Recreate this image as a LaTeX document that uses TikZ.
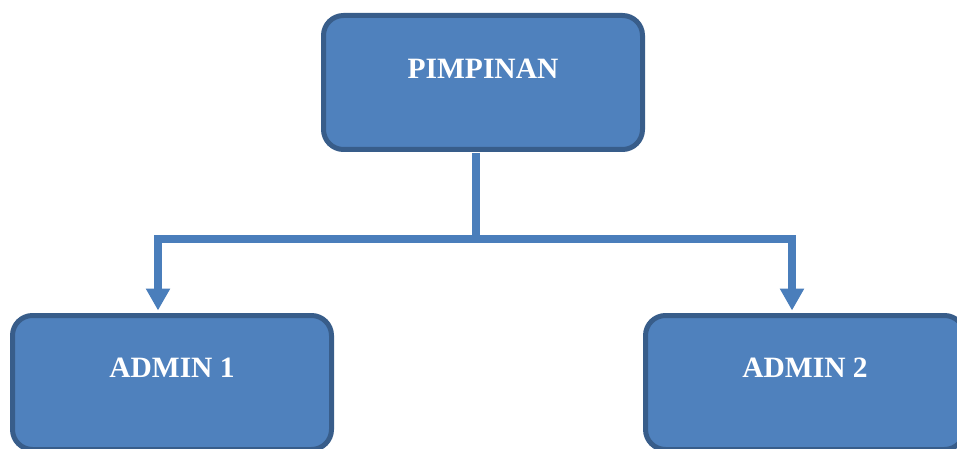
\documentclass[tikz,border=0pt]{standalone}
\usepackage{fontspec}
\setmainfont{Liberation Serif}
\usetikzlibrary{arrows.meta}
\definecolor{boxfill}{HTML}{4F81BD}
\definecolor{boxline}{HTML}{385D8A}
\definecolor{conncol}{HTML}{4A7EBB}
\tikzset{
  orgbox/.style={draw=boxline, fill=boxfill, line width=5pt, rounded corners=20pt,
    minimum width=319pt, minimum height=134pt, inner sep=0pt},
  orgtext/.style={text=white, font=\fontsize{29.5}{34}\selectfont\bfseries, inner sep=0pt},
  conn/.style={draw=conncol, line width=7.5pt, line join=miter},
  conntip/.style={-{Triangle[width=23pt,length=22pt]}, shorten >=2.5pt}
}
\begin{document}
\begin{tikzpicture}[x=1pt,y=-1pt]
\useasboundingbox (0,0) rectangle (957,449);
\clip (0,0) rectangle (957,449);
\node[orgbox] (top) at (483,82.5) {};
\node[orgbox] (a1) at (172,382.5) {};
\node[orgbox] (a2) at (805,382.5) {};
\node[orgtext] (ttop) at ([yshift=-56pt]top.north) {PIMPINAN};
\node[orgtext] (ta1) at ([yshift=-55pt]a1.north) {ADMIN 1};
\node[orgtext] (ta2) at ([yshift=-55pt]a2.north) {ADMIN 2};
\coordinate (j) at (476,239);
\coordinate (l) at (158,239);
\coordinate (r) at (792,239);
\draw[conn, shorten <=1pt] (top.south -| j) -- (j);
\draw[conn, conntip] (j) -- (l) -- (l |- a1.north);
\draw[conn, conntip] (j) -- (r) -- (r |- a2.north);
\end{tikzpicture}
\end{document}
